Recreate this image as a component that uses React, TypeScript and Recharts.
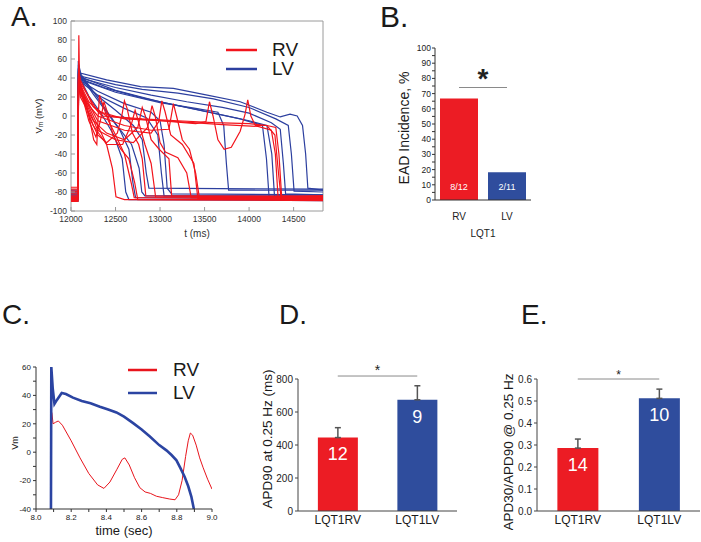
import React from 'react';
import {
  LineChart, Line, BarChart, Bar, Cell, XAxis, YAxis, ErrorBar, LabelList,
  ReferenceLine, ReferenceArea, Label, Legend,
} from 'recharts';

type Pt = [number, number];

// ---------- A. simulated action potentials, t (ms) vs Vm (mV)
const lv01: Pt[] = [[12000, -80], [12078, -80], [12082, 58], [12092, 42], [12110, 45], [12400, 38], [12780, 31], [13150, 29], [13530, 22], [13900, 15], [14200, 4], [14350, -1], [14460, 2], [14540, 0], [14600, -10], [14635, -40], [14660, -76], [14830, -78]];
const lv02: Pt[] = [[12000, -86], [12078, -86], [12083, 50], [12095, 38], [12110, 42], [12500, 33], [12800, 28], [13200, 24], [13600, 18], [14000, 9], [14300, -3], [14440, -10], [14475, -40], [14505, -79], [14830, -80]];
const lv03: Pt[] = [[12000, -83], [12078, -83], [12084, 48], [12110, 40], [12500, 30], [12900, 22], [13300, 15], [13700, 9], [14000, 3], [14250, -7], [14350, -14], [14385, -50], [14410, -82], [14830, -83]];
const lv04: Pt[] = [[12000, -88], [12078, -88], [12085, 45], [12110, 39], [12400, 29], [12800, 19], [13200, 11], [13600, 3], [14000, -5], [14200, -10], [14255, -40], [14285, -84], [14830, -85]];
const lv05: Pt[] = [[12000, -78], [12078, -78], [12084, 47], [12110, 41], [12500, 27], [13000, 15], [13500, 5], [13900, -3], [14150, -10], [14195, -45], [14225, -86], [14830, -87]];
const lv06: Pt[] = [[12000, -90], [12078, -90], [12085, 44], [12110, 38], [12500, 25], [13000, 14], [13400, 8], [13650, 4], [13715, -10], [13745, -50], [13770, -78], [14830, -78]];
const lv07: Pt[] = [[12000, -84], [12078, -84], [12084, 46], [12110, 37], [12300, 26], [12600, 13], [12900, 4], [13000, -5], [13045, -30], [13080, -76], [13130, -82], [14830, -83]];
const lv08: Pt[] = [[12000, -86], [12078, -86], [12083, 50], [12110, 36], [12300, 22], [12600, 8], [12850, -2], [12975, -20], [13015, -60], [13045, -84], [14830, -85]];
const lv09: Pt[] = [[12000, -80], [12078, -80], [12085, 52], [12110, 40], [12300, 21], [12500, 6], [12700, -10], [12800, -25], [12845, -60], [12875, -76], [14830, -77]];
const lv10: Pt[] = [[12000, -88], [12078, -88], [12084, 54], [12110, 42], [12250, 23], [12400, 4], [12550, -15], [12650, -35], [12695, -70], [12725, -86], [14830, -87]];
const lv11: Pt[] = [[12000, -82], [12078, -82], [12084, 48], [12110, 38], [12200, 21], [12350, 1], [12480, -20], [12575, -45], [12615, -80], [12650, -88], [14830, -89]];
const lv12: Pt[] = [[12000, -85], [12078, -85], [12085, 55], [12110, 44], [12300, 19], [12500, -8], [12680, -30], [12765, -55], [12795, -80], [12830, -84], [14830, -84]];

const rv01: Pt[] = [[12000, -75], [12078, -75], [12088, 85], [12095, 40], [12110, 30], [12200, 10], [12300, -10], [12400, -30], [12465, -55], [12505, -85], [12600, -88], [14830, -88]];
const rv02: Pt[] = [[12000, -88], [12078, -88], [12085, 50], [12105, 35], [12180, 10], [12255, -25], [12290, -30], [12305, 0], [12320, 22], [12345, 15], [12420, -5], [12500, -20], [12600, -40], [12675, -70], [12710, -86], [14830, -87]];
const rv03: Pt[] = [[12000, -82], [12078, -82], [12085, 45], [12105, 32], [12200, 0], [12300, -20], [12400, -28], [12520, -18], [12570, 0], [12600, 16], [12630, 8], [12690, -18], [12760, -30], [12800, -45], [12840, -84], [14830, -85]];
const rv04: Pt[] = [[12000, -86], [12078, -86], [12084, 40], [12105, 25], [12250, -10], [12400, -30], [12580, -30], [12680, -8], [12720, 6], [12755, -5], [12830, -30], [12900, -50], [12950, -85], [14830, -86]];
const rv05: Pt[] = [[12000, -80], [12078, -80], [12085, 38], [12105, 20], [12250, -5], [12400, -18], [12600, -25], [12750, -12], [12800, 9], [12835, 0], [12900, -25], [12990, -35], [13100, -45], [13130, -84], [14830, -85]];
const rv06: Pt[] = [[12000, -89], [12078, -89], [12085, 42], [12105, 28], [12300, -15], [12500, -25], [12700, -28], [12860, -12], [12910, 11], [12945, 0], [13000, -28], [13060, -38], [13200, -44], [13300, -60], [13350, -86], [14830, -86]];
const rv07: Pt[] = [[12000, -77], [12078, -77], [12084, 45], [12105, 30], [12300, -5], [12600, -15], [12900, -18], [12985, -6], [13020, 16], [13055, 5], [13120, -20], [13250, -30], [13380, -50], [13425, -87], [14830, -87]];
const rv08: Pt[] = [[12000, -84], [12078, -84], [12085, 36], [12105, 22], [12300, 0], [12600, -10], [12900, -15], [13100, -14], [13150, 13], [13185, 0], [13250, -25], [13330, -35], [13400, -60], [13440, -85], [14830, -84]];
const rv09: Pt[] = [[12000, -87], [12078, -87], [12085, 46], [12105, 35], [12300, 5], [12600, -3], [13000, -5], [13400, -8], [13515, -6], [13555, 15], [13595, 0], [13650, -25], [13720, -35], [13800, -33], [13900, -16], [13955, 2], [13985, 17], [14020, 0], [14070, -10], [14200, -10], [14300, -12], [14335, -40], [14365, -84], [14830, -86]];
const rv10: Pt[] = [[12000, -79], [12078, -79], [12086, 48], [12105, 38], [12250, 10], [12400, 0], [12800, -3], [13200, -5], [13600, -7], [14000, -8], [14200, -10], [14290, -20], [14330, -60], [14360, -87], [14830, -88]];
const rv11: Pt[] = [[12000, -85], [12078, -85], [12085, 44], [12105, 33], [12200, 15], [12350, 0], [12700, -3], [13200, -6], [13700, -9], [14100, -11], [14250, -15], [14295, -40], [14325, -85], [14830, -84]];
const rv12: Pt[] = [[12000, -90], [12078, -90], [12085, 40], [12105, 28], [12200, -5], [12280, -22], [12330, -5], [12370, 15], [12405, 5], [12470, -20], [12560, -35], [12650, -45], [12715, -70], [12750, -88], [14830, -89]];

const lvTraces = [lv01, lv02, lv03, lv04, lv05, lv06, lv07, lv08, lv09, lv10, lv11, lv12];
const rvTraces = [rv01, rv02, rv03, rv04, rv05, rv06, rv07, rv08, rv09, rv10, rv11, rv12];
const aTimeTicks = [12000, 12500, 13000, 13500, 14000, 14500];
const aVmTicks = [-100, -80, -60, -40, -20, 0, 20, 40, 60, 80, 100];

// ---------- B. EAD incidence
const eadGroups = ['RV', 'LV'];
const eadPct = [66.7, 18.2];
const eadCounts = ['8/12', '2/11'];
const eadTicks = [0, 5, 10, 15, 20, 25, 30, 35, 40, 45, 50, 55, 60, 65, 70, 75, 80, 85, 90, 95, 100];
const eadSig = 74;

// ---------- C. single RV / LV recordings, t (sec)
const cRV: Pt[] = [[8.09, 28], [8.097, 20], [8.11, 21], [8.127, 22], [8.15, 19], [8.2, 8], [8.25, -4], [8.3, -15], [8.35, -23], [8.386, -25.5], [8.42, -21], [8.46, -12], [8.49, -5], [8.505, -4], [8.53, -9], [8.56, -18], [8.59, -25], [8.62, -28], [8.65, -29], [8.684, -31], [8.72, -32], [8.76, -33], [8.79, -33.5], [8.81, -30], [8.83, -20], [8.85, -3], [8.865, 8], [8.877, 13.5], [8.89, 12], [8.91, 5], [8.93, -4], [8.95, -11], [8.975, -19], [9.0, -26]];
const cLV: Pt[] = [[8.085, -40], [8.087, 60], [8.095, 45], [8.105, 34], [8.12, 37], [8.146, 41.7], [8.17, 41], [8.21, 38.4], [8.26, 36], [8.31, 34.5], [8.363, 32], [8.41, 30], [8.457, 28], [8.5, 25], [8.552, 20.5], [8.6, 16], [8.647, 11], [8.7, 5], [8.741, 1.3], [8.77, -2], [8.798, -5.7], [8.82, -11], [8.845, -17.5], [8.865, -24], [8.883, -31.5], [8.897, -40]];
const cTimeTicks = [8.0, 8.1, 8.2, 8.3, 8.4, 8.5, 8.6, 8.7, 8.8, 8.9, 9.0];
const cVmTicks = [-40, -30, -20, -10, 0, 10, 20, 30, 40, 50, 60];

// ---------- D / E. APD summary
const apdGroups = ['LQT1RV', 'LQT1LV'];
const apd90 = [445, 674];
const apd90Err = [60, 85];
const apd90N = ['12', '9'];
const apd90Ticks = [0, 200, 400, 600, 800];
const apd90Sig = 818;
const apdRatio = [0.286, 0.512];
const apdRatioErr = [0.041, 0.042];
const apdRatioN = ['14', '10'];
const apdRatioTicks = [0, 0.1, 0.2, 0.3, 0.4, 0.5, 0.6];
const apdRatioSig = 0.6;

const FONT = '"Liberation Sans", Arial, Helvetica, sans-serif';
const RED = '#ec1c24';
const BLUE = '#2f4d9d';
const A_RED = '#f2141c';
const A_BLUE = '#2c3f9f';

const toXY = (pts: Pt[]) => pts.map(([t, v]) => ({ t, v }));

// rotated y-axis title, centred on the axis' vertical extent
const sideTitle = (text: React.ReactNode, dx: number, dy: number, size: number) =>
  (props: any) => {
    const vb = props.viewBox;
    const x = vb.x + dx;
    const y = vb.y + vb.height / 2 + dy;
    return (
      <text x={x} y={y} transform={`rotate(-90 ${x} ${y})`} textAnchor="middle"
        dominantBaseline="central" fontSize={size} fill="#1a1a1a" fontFamily={FONT}>
        {text}
      </text>
    );
  };

function LineKey({ items, lineW, gap, rowH, fontSize, strokeW }: any) {
  return (
    <div style={{ fontFamily: FONT }}>
      {items.map((it: any) => (
        <div key={it.name} style={{ display: 'flex', alignItems: 'center', height: rowH }}>
          <svg width={lineW} height={6} style={{ marginRight: gap }}>
            <line x1={0} x2={lineW} y1={3} y2={3} stroke={it.color} strokeWidth={strokeW} />
          </svg>
          <span style={{ fontSize, lineHeight: `${rowH}px`, color: '#1a1a1a' }}>{it.name}</span>
        </div>
      ))}
    </div>
  );
}

function PanelA() {
  const tick = { fontSize: 8.5, fill: '#333', fontFamily: FONT };
  return (
    <div style={{ position: 'absolute', left: 0, top: 0 }}>
      <LineChart width={340} height={245} margin={{ top: 21, right: 17, bottom: 0, left: 0 }}>
        <XAxis type="number" dataKey="t" domain={[12000, 14830]} allowDataOverflow ticks={aTimeTicks}
          interval={0} height={34} tickSize={-4} tickMargin={9} axisLine={false}
          tickLine={{ stroke: '#999' }} tick={tick}>
          <Label value="t (ms)" position="insideBottom" offset={8} fontSize={10} fill="#333" fontFamily={FONT} />
        </XAxis>
        <XAxis xAxisId="top" orientation="top" type="number" domain={[12000, 14830]} ticks={aTimeTicks}
          interval={0} height={0} tickSize={-4} tick={false} axisLine={false} tickLine={{ stroke: '#999' }} />
        <YAxis type="number" domain={[-100, 100]} allowDataOverflow ticks={aVmTicks} interval={0} width={71}
          tickSize={-4} tickMargin={8} axisLine={false} tickLine={{ stroke: '#999' }} tick={tick}>
          <Label content={sideTitle(<>
            <tspan>V</tspan><tspan fontSize={6.5} dy={2}>m</tspan><tspan dy={-2}> (mV)</tspan>
          </>, 38, 0, 9.5)} />
        </YAxis>
        <YAxis yAxisId="right" orientation="right" type="number" domain={[-100, 100]} ticks={aVmTicks}
          interval={0} width={0} tickSize={-4} tick={false} axisLine={false} tickLine={{ stroke: '#999' }} />
        <ReferenceArea x1={12000} x2={14830} y1={-100} y2={100} fill="none" stroke="#9a9a9a" strokeWidth={1} />
        {lvTraces.map((tr, i) => (
          <Line key={`lv${i}`} data={toXY(tr)} dataKey="v" type="linear" stroke={A_BLUE} strokeWidth={1.2}
            dot={false} isAnimationActive={false} legendType="none" />
        ))}
        {rvTraces.map((tr, i) => (
          <Line key={`rv${i}`} data={toXY(tr)} dataKey="v" type="linear" stroke={A_RED} strokeWidth={1.2}
            dot={false} isAnimationActive={false} legendType="none" />
        ))}
        <Legend layout="vertical" align="center" verticalAlign="middle"
          wrapperStyle={{ left: 226, top: 40, width: 'auto' }}
          content={() => (
            <LineKey items={[{ name: 'RV', color: A_RED }, { name: 'LV', color: A_BLUE }]}
              lineW={31} gap={15} rowH={19} fontSize={19} strokeW={2.5} />
          )} />
      </LineChart>
    </div>
  );
}

function PanelB() {
  const data = eadGroups.map((g, i) => ({ g, pct: eadPct[i], n: eadCounts[i] }));
  return (
    <div style={{ position: 'absolute', left: 370, top: 30 }}>
      <BarChart width={170} height={215} data={data} margin={{ top: 18, right: 9, bottom: 0, left: 0 }}
        barCategoryGap={5}>
        <XAxis dataKey="g" height={45} tickLine={false} tickSize={6} tickMargin={7}
          axisLine={{ stroke: '#333' }} tick={{ fontSize: 10, fill: '#222', fontFamily: FONT }}>
          <Label value="LQT1" position="insideBottom" offset={8} fontSize={10} fill="#222" fontFamily={FONT} />
        </XAxis>
        <YAxis type="number" domain={[0, 100]} ticks={eadTicks} interval={0} width={65}
          tickSize={3} tickMargin={1} axisLine={{ stroke: '#333' }} tickLine={{ stroke: '#333' }}
          tickFormatter={(v: number) => (v % 10 === 0 ? String(v) : '')}
          tick={{ fontSize: 8.5, fill: '#222', fontFamily: FONT }}>
          <Label content={sideTitle('EAD Incidence, %', 34, 4, 14)} />
        </YAxis>
        <ReferenceLine segment={[{ x: 'RV', y: eadSig }, { x: 'LV', y: eadSig }]} stroke="#8a8a8a"
          strokeWidth={1.2} ifOverflow="visible"
          label={{ value: '*', position: 'top', offset: 0, fontSize: 28, fontWeight: 'bold', fill: '#222', fontFamily: FONT }} />
        <Bar dataKey="pct" isAnimationActive={false}>
          {data.map((d, i) => <Cell key={d.g} fill={i === 0 ? RED : BLUE} />)}
          <LabelList dataKey="n" position="insideBottom" offset={10} fill="#fff" fontSize={9} fontFamily={FONT} />
        </Bar>
      </BarChart>
    </div>
  );
}

function PanelC() {
  const tick = { fontSize: 8, fill: '#222', fontFamily: FONT };
  return (
    <div style={{ position: 'absolute', left: 0, top: 280 }}>
      <LineChart width={230} height={262} margin={{ top: 87, right: 18, bottom: 0, left: 0 }}>
        <XAxis type="number" dataKey="t" domain={[8.0, 9.0]} allowDataOverflow ticks={cTimeTicks} interval={0}
          height={33} tickSize={3} tickMargin={2} axisLine={{ stroke: '#333' }} tickLine={{ stroke: '#333' }}
          tickFormatter={(v: number) => (Math.round(v * 10) % 2 === 0 ? v.toFixed(1) : '')} tick={tick}>
          <Label value="time (sec)" position="insideBottom" offset={7} fontSize={13} fill="#1a1a1a" fontFamily={FONT} />
        </XAxis>
        <YAxis type="number" domain={[-40, 60]} allowDataOverflow ticks={cVmTicks} interval={0} width={36}
          tickSize={3} tickMargin={2} axisLine={{ stroke: '#333' }} tickLine={{ stroke: '#333' }}
          tickFormatter={(v: number) => (v % 20 === 0 ? String(v) : '')} tick={tick}>
          <Label content={sideTitle('Vm', 15, 5, 9)} />
        </YAxis>
        <Line data={toXY(cRV)} dataKey="v" type="linear" stroke="#e8141c" strokeWidth={1}
          dot={false} isAnimationActive={false} />
        <Line data={toXY(cLV)} dataKey="v" type="linear" stroke="#2b44a2" strokeWidth={2.6}
          dot={false} isAnimationActive={false} />
        <Legend layout="vertical" align="center" verticalAlign="middle"
          wrapperStyle={{ left: 128, top: 79, width: 'auto' }}
          content={() => (
            <LineKey items={[{ name: 'RV', color: '#e8141c' }, { name: 'LV', color: '#2b44a2' }]}
              lineW={29} gap={16} rowH={22.6} fontSize={19} strokeW={2.5} />
          )} />
      </LineChart>
    </div>
  );
}

function ApdPanel({ left, width, yWidth, right, values, errors, counts, ticks, sig, sigSize, sigOffset,
  title, titleDx, titleDy, fmt }: any) {
  const data = apdGroups.map((g, i) => ({ g, val: values[i], err: [0, errors[i]], n: counts[i] }));
  return (
    <div style={{ position: 'absolute', left, top: 280 }}>
      <BarChart width={width} height={250} data={data} margin={{ top: 99, right, bottom: 0, left: 0 }}
        barCategoryGap="25%">
        <XAxis dataKey="g" height={19} tickLine={false} tickSize={0} tickMargin={4}
          axisLine={{ stroke: '#444' }} tick={{ fontSize: 12, fill: '#1a1a1a', fontFamily: FONT }} />
        <YAxis type="number" domain={[ticks[0], ticks[ticks.length - 1]]} ticks={ticks} interval={0}
          width={yWidth} tickSize={3} tickMargin={2} axisLine={{ stroke: '#444' }} tickLine={{ stroke: '#444' }}
          tickFormatter={fmt} tick={{ fontSize: 10, fill: '#222', fontFamily: FONT }}>
          <Label content={sideTitle(title, titleDx, titleDy, 13.5)} />
        </YAxis>
        <ReferenceLine segment={[{ x: apdGroups[0], y: sig }, { x: apdGroups[1], y: sig }]} stroke="#8a8a8a"
          strokeWidth={1} ifOverflow="visible"
          label={{ value: '*', position: 'top', offset: sigOffset, fontSize: sigSize, fill: '#222', fontFamily: FONT }} />
        <Bar dataKey="val" isAnimationActive={false}>
          {data.map((d, i) => <Cell key={d.g} fill={i === 0 ? RED : BLUE} />)}
          <ErrorBar dataKey="err" direction="y" width={3} stroke="#555" strokeWidth={1.5} />
          <LabelList dataKey="n" position="insideTop" offset={10} fill="#fff" fontSize={18} fontFamily={FONT} />
        </Bar>
      </BarChart>
    </div>
  );
}

const letter = (ch: string, left: number, top: number, size: number) => (
  <div style={{ position: 'absolute', left, top, fontSize: size, lineHeight: `${size}px`, fontFamily: FONT, color: '#1a1a1a' }}>
    {ch}
  </div>
);

export default function App() {
  return (
    <div style={{ position: 'absolute', left: 0, top: 0, width: 701, height: 542, background: '#fff', overflow: 'hidden', fontFamily: FONT }}>
      <PanelA />
      <PanelB />
      <PanelC />
      <ApdPanel left={260} width={200} yWidth={38} right={3} values={apd90} errors={apd90Err} counts={apd90N}
        ticks={apd90Ticks} sig={apd90Sig} sigSize={14} sigOffset={1} title="APD90 at 0.25 Hz  (ms)"
        titleDx={7} titleDy={-6} fmt={(v: number) => String(v)} />
      <ApdPanel left={480} width={221} yWidth={57} right={1} values={apdRatio} errors={apdRatioErr} counts={apdRatioN}
        ticks={apdRatioTicks} sig={apdRatioSig} sigSize={12} sigOffset={0} title="APD30/APD90 @ 0.25 Hz"
        titleDx={28} titleDy={7} fmt={(v: number) => v.toFixed(1)} />
      {letter('A.', 11, 3, 28)}
      {letter('B.', 380, 2, 30)}
      {letter('C.', 2, 301, 28)}
      {letter('D.', 279, 301, 28)}
      {letter('E.', 521, 301, 28)}
    </div>
  );
}
